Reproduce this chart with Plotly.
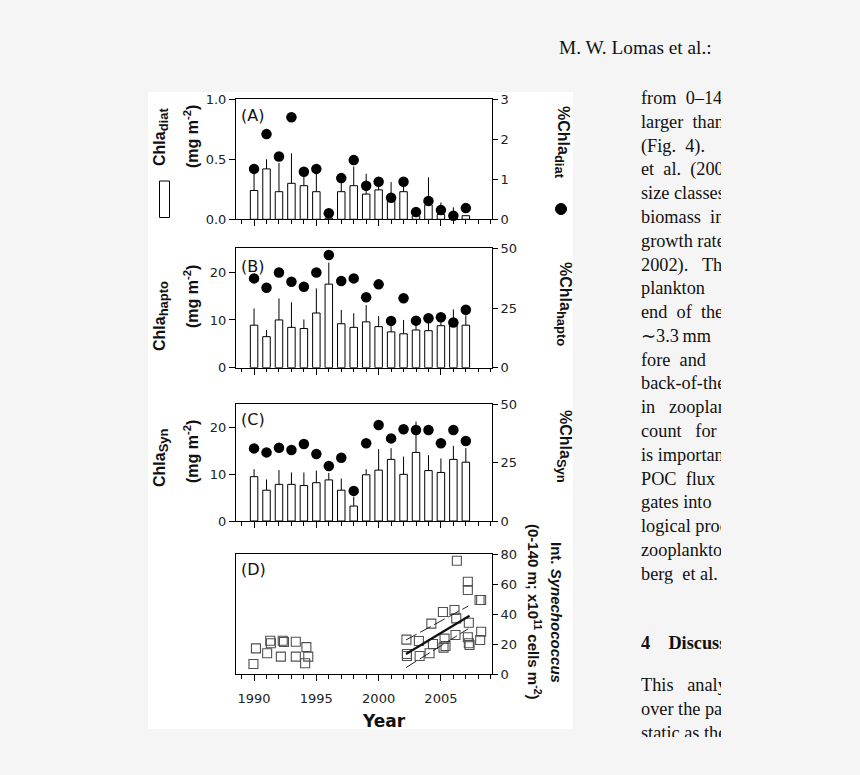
import plotly.graph_objects as go

# ---------------- data ----------------
years = list(range(1990, 2008))

chl_diat = [0.24, 0.42, 0.23, 0.30, 0.28, 0.23, 0.01, 0.23, 0.28, 0.21, 0.245, 0.15, 0.23, 0.03, 0.12, 0.04, 0.01, 0.03]
chl_diat_err = [0.16, 0.08, 0.24, 0.25, 0.10, 0.18, 0.0, 0.08, 0.16, 0.17, 0.065, 0.16, 0.08, 0.06, 0.23, 0.10, 0.09, 0.0]
pct_diat = [1.26, 2.13, 1.57, 2.55, 1.19, 1.26, 0.15, 1.03, 1.48, 0.84, 0.94, 0.54, 0.94, 0.18, 0.46, 0.23, 0.09, 0.28]

chl_hapto = [8.9, 6.5, 10.0, 8.45, 8.2, 11.45, 17.5, 9.2, 8.45, 9.6, 8.6, 7.5, 7.1, 7.9, 7.75, 8.8, 8.8, 8.9]
chl_hapto_err = [3.5, 1.4, 4.5, 5.25, 1.9, 5.15, 4.5, 2.9, 2.95, 3.5, 2.2, 1.4, 2.9, 1.4, 1.85, 1.2, 3.4, 2.1]
pct_hapto = [37.4, 33.5, 39.9, 36.0, 33.9, 39.9, 47.2, 36.3, 37.4, 29.5, 34.9, 19.6, 29.1, 19.7, 20.7, 21.1, 18.9, 24.3]

chl_syn = [9.5, 6.6, 7.85, 7.85, 7.6, 8.2, 8.8, 6.6, 3.2, 9.9, 10.9, 13.2, 10.0, 14.7, 10.8, 10.4, 13.2, 12.6]
chl_syn_err = [1.6, 2.3, 3.05, 2.55, 2.8, 2.6, 1.5, 2.5, 2.0, 1.2, 4.5, 2.4, 3.8, 6.6, 3.3, 3.0, 2.9, 3.0]
pct_syn = [31.1, 29.4, 31.4, 30.4, 33.0, 28.7, 23.6, 27.1, 12.9, 33.3, 41.1, 35.4, 39.3, 39.0, 39.0, 33.3, 39.0, 34.3]

syn_year = [1989.95, 1990.15, 1991.05, 1991.3, 1991.35, 1992.15, 1992.3, 1992.4, 1993.35, 1993.35,
            1994.2, 1994.35, 1994.1,
            2002.23, 2002.27, 2002.27, 2003.23, 2003.29, 2004.09, 2004.23, 2004.36, 2005.16, 2005.21,
            2005.29, 2005.37, 2006.09, 2006.17, 2006.23, 2006.28, 2007.16, 2007.16, 2007.24, 2007.16,
            2007.24, 2007.3, 2008.1, 2008.23, 2008.23, 2008.15]
syn_cells = [6.9, 17.3, 14.0, 22.4, 20.7, 11.8, 22.4, 21.5, 21.7, 11.8,
             18.1, 11.8, 7.4,
             23.1, 12.2, 13.5, 22.2, 12.2, 14.0, 33.8, 20.2, 41.5, 17.8,
             23.8, 18.9, 42.9, 26.2, 37.3, 75.7, 61.7, 56.2, 34.4, 24.7,
             20.7, 19.5, 49.5, 49.5, 28.4, 22.9]

fit_year = [2002.2, 2007.3]
fit_cells = [13.5, 39.0]
ci_year = [2002.2, 2007.2]
ci_upper = [22.9, 45.5]
ci_lower = [4.5, 30.4]

x_ticks = [1990, 1995, 2000, 2005]
text_lines = [
    "from\u00a0\u00a00\u2013140", "larger\u00a0\u00a0than", "(Fig.\u00a0\u00a04).", "et\u00a0\u00a0al.\u00a0\u00a0(2005)",
    "size\u00a0classes", "biomass\u00a0\u00a0in", "growth\u00a0rate", "2002).\u00a0\u00a0\u00a0The",
    "plankton", "end\u00a0\u00a0of\u00a0\u00a0the", "\u223c3.3\u2009mm", "fore\u00a0\u00a0and",
    "back-of-the", "in\u00a0\u00a0\u00a0zooplankton", "count\u00a0\u00a0\u00a0for", "is\u00a0important",
    "POC\u00a0\u00a0flux", "gates\u00a0into", "logical\u00a0processes", "zooplankton", "berg\u00a0\u00a0et\u00a0al.",
]
text_lines2 = ["This\u00a0\u00a0\u00a0analysis", "over\u00a0the\u00a0past", "static\u00a0as\u00a0the"]

# ---------------- geometry helpers ----------------
W, H = 860, 775
def fx(p):
    return p / W
def fy(p):
    return 1 - p / H

xdom = [fx(236), fx(492)]
panels = {"A": (99.3, 219.3), "B": (248.3, 367.7), "C": (404.3, 521.0), "D": (554.3, 674.3)}
def ydom(k):
    t, b = panels[k]
    return [fy(b), fy(t)]

TICKFONT = dict(family="DejaVu Sans", size=13, color="#222")
SANSB = "Liberation Sans"
SERIF = "Liberation Serif"

fig = go.Figure()

def add_bar_panel(xa, yl, yr, vals, errs, pcts):
    fig.add_trace(go.Bar(
        x=years, y=vals, width=0.6, xaxis=xa, yaxis=yl,
        marker=dict(color="white", line=dict(color="black", width=1)),
        error_y=dict(type="data", symmetric=False, array=errs, arrayminus=[0] * len(errs),
                     width=0, thickness=1, color="black"),
        showlegend=False, hoverinfo="skip"))
    fig.add_trace(go.Scatter(
        x=years, y=pcts, mode="markers", xaxis=xa, yaxis=yr,
        marker=dict(symbol="circle", size=10.5, color="black"),
        cliponaxis=False, showlegend=False, hoverinfo="skip"))

add_bar_panel("x", "y", "y2", chl_diat, chl_diat_err, pct_diat)
add_bar_panel("x2", "y3", "y4", chl_hapto, chl_hapto_err, pct_hapto)
add_bar_panel("x3", "y5", "y6", chl_syn, chl_syn_err, pct_syn)

fig.add_trace(go.Scatter(
    x=syn_year, y=syn_cells, mode="markers", xaxis="x4", yaxis="y7",
    marker=dict(symbol="square-open", size=9, color="#505050", line=dict(width=1.1)),
    showlegend=False, hoverinfo="skip"))
fig.add_trace(go.Scatter(x=ci_year, y=ci_upper, mode="lines", xaxis="x4", yaxis="y7",
                         line=dict(color="#222", width=1, dash="12px,4px"), showlegend=False, hoverinfo="skip"))
fig.add_trace(go.Scatter(x=ci_year, y=ci_lower, mode="lines", xaxis="x4", yaxis="y7",
                         line=dict(color="#222", width=1, dash="12px,4px"), showlegend=False, hoverinfo="skip"))
fig.add_trace(go.Scatter(x=fit_year, y=fit_cells, mode="lines", xaxis="x4", yaxis="y7",
                         line=dict(color="#111", width=2.2), showlegend=False, hoverinfo="skip"))

def xaxis(anchor, labels):
    return dict(domain=xdom, anchor=anchor, range=[1988.55, 2009.1],
                showline=True, linecolor="black", linewidth=1, mirror=True,
                ticks="outside", ticklen=6, tickcolor="black", tickwidth=1,
                tickvals=x_ticks, showticklabels=labels, tickfont=TICKFONT,
                ticklabelstandoff=6, automargin=False,
                minor=dict(dtick=1, tick0=1990, ticks="outside", ticklen=3.5, tickcolor="black", showgrid=False),
                showgrid=False, zeroline=False, fixedrange=True)

def yleft(anchor, dom, rng, tv, tt):
    return dict(domain=dom, anchor=anchor, range=rng, showline=True, linecolor="black", linewidth=1,
                ticks="outside", ticklen=6, tickcolor="black", tickvals=tv, ticktext=tt, automargin=False,
                tickfont=TICKFONT, showgrid=False, zeroline=False)

def yright(anchor, over, rng, tv):
    return dict(overlaying=over, anchor=anchor, side="right", range=rng, showline=True, linecolor="black",
                linewidth=1, ticks="outside", ticklen=5, tickcolor="black", tickvals=tv, automargin=False,
                tickfont=TICKFONT, showgrid=False, zeroline=False)

layout = dict(
    width=W, height=H, autosize=False, margin=dict(l=0, r=0, t=0, b=0, pad=0, autoexpand=False),
    paper_bgcolor="#f5f5f5", plot_bgcolor="rgba(0,0,0,0)", showlegend=False,
    xaxis=xaxis("y", False), xaxis2=xaxis("y3", False), xaxis3=xaxis("y5", False), xaxis4=xaxis("y7", True),
    yaxis=yleft("x", ydom("A"), [0, 1], [0, 0.5, 1.0], ["0.0", "0.5", "1.0"]),
    yaxis2=yright("x", "y", [0, 3], [0, 1, 2, 3]),
    yaxis3=yleft("x2", ydom("B"), [0, 25], [0, 10, 20], ["0", "10", "20"]),
    yaxis4=yright("x2", "y3", [0, 50], [0, 25, 50]),
    yaxis5=yleft("x3", ydom("C"), [0, 25], [0, 10, 20], ["0", "10", "20"]),
    yaxis6=yright("x3", "y5", [0, 50], [0, 25, 50]),
    yaxis7=dict(domain=ydom("D"), anchor="x4", side="right", range=[0, 80], showline=True, mirror=True,
                linecolor="black", linewidth=1, ticks="outside", ticklen=5, tickcolor="black", automargin=False,
                tickvals=[0, 20, 40, 60, 80], tickfont=TICKFONT, showgrid=False, zeroline=False),
)
fig.update_layout(**layout)

shapes = [
    dict(type="rect", xref="paper", yref="paper", x0=fx(148), x1=fx(573), y0=fy(729), y1=fy(92),
         fillcolor="white", line=dict(width=0), layer="below"),
    dict(type="rect", xref="paper", yref="paper", x0=fx(159.5), x1=fx(169.5), y0=fy(217.5), y1=fy(181),
         fillcolor="white", line=dict(color="black", width=1)),
    dict(type="circle", xref="paper", yref="paper", x0=fx(555.5), x1=fx(566.5), y0=fy(214.5), y1=fy(203.5),
         fillcolor="black", line=dict(color="black", width=1)),
]
fig.update_layout(shapes=shapes)

ann = []
def note(text, x, y, size, family=SANSB, angle=0, xanchor="center", yanchor="middle", **kw):
    d = dict(text=text, x=fx(x), y=fy(y), xref="paper", yref="paper", showarrow=False,
             textangle=angle, xanchor=xanchor, yanchor=yanchor,
             font=dict(family=family, size=size, color="#111"))
    d.update(kw)
    ann.append(d)

for lab, yy in [("(A)", 115), ("(B)", 266), ("(C)", 419), ("(D)", 569)]:
    note(lab, 239, yy, 16, family="DejaVu Sans", xanchor="left")

def sub(t):
    return "<sub><span style='font-size:13px'>" + t + "</span></sub>"

note("<b>Chla" + sub("diat") + "</b>", 161, 137, 16, angle=-90)
note("<b>(mg m<sup>-2</sup>)</b>", 191, 137, 16, angle=-90)
note("<b>Chla" + sub("hapto") + "</b>", 161, 316, 16, angle=-90)
note("<b>(mg m<sup>-2</sup>)</b>", 191, 297, 16, angle=-90)
note("<b>Chla" + sub("Syn") + "</b>", 161, 458, 16, angle=-90)
note("<b>(mg m<sup>-2</sup>)</b>", 191, 452, 16, angle=-90)
note("<b>%Chla" + sub("diat") + "</b>", 562, 142, 16, angle=90)
note("<b>%Chla" + sub("hapto") + "</b>", 564, 304, 16, angle=90)
note("<b>%Chla" + sub("Syn") + "</b>", 564, 446, 16, angle=90)
note("<b>Int. <i>Synechococcus</i></b>", 557, 612, 15, angle=90)
note("<b>(0-140 m; x10<sup>11</sup> cells m<sup>-2</sup>)</b>", 535, 612, 15, angle=90)
note("<b>Year</b>", 384, 721, 17, family="DejaVu Sans")

note("M. W. Lomas et al.:", 557, 47, 19.3, family=SERIF, xanchor="left")
note("<br>".join(text_lines), 639, 86, 18.3, family=SERIF, xanchor="left", yanchor="top",
     align="left", width=80)
note("<b>4\u00a0\u00a0\u00a0\u00a0Discussion</b>", 639, 643, 18.3, family=SERIF, xanchor="left",
     align="left", width=80)
note("<br>".join(text_lines2), 639, 673, 18.3, family=SERIF, xanchor="left", yanchor="top",
     align="left", width=80, height=62, valign="top")

fig.update_layout(annotations=ann)
fig.write_html("out.html",
               default_width="860px", default_height="775px",
               config={"displayModeBar": False, "responsive": False},
               post_script="document.body.style.margin='0';document.body.style.overflow='hidden';")
